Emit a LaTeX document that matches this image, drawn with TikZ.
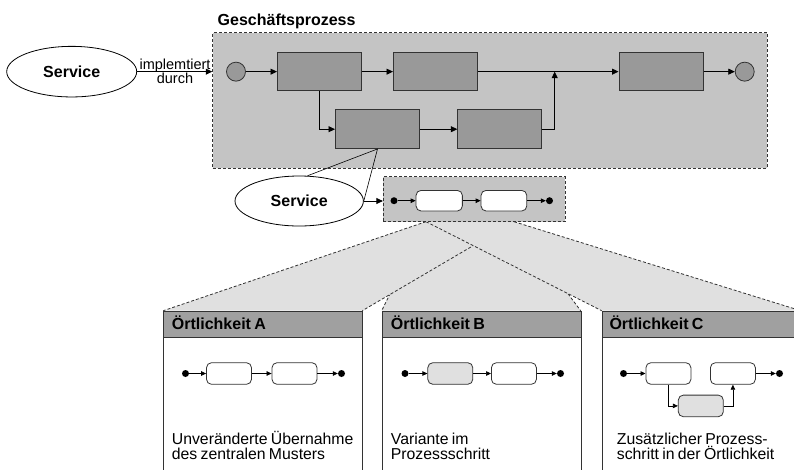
\documentclass[tikz,border=0pt]{standalone}
\usepackage{fontspec}
\setmainfont{Liberation Sans}[WordSpace=0.75]
\usetikzlibrary{arrows.meta,shapes.geometric}
\definecolor{boxgray}{HTML}{999999}
\definecolor{hdrgray}{HTML}{A0A0A0}
\definecolor{bggray}{HTML}{C4C4C4}
\definecolor{lgray}{HTML}{E0E0E0}
\definecolor{edge}{HTML}{333333}
\begin{document}
\begin{tikzpicture}[x=1pt,y=-1pt,
  proc/.style={draw=edge,line width=1pt,fill=boxgray,minimum width=84pt,minimum height=38.5pt,inner sep=0pt},
  ev/.style={circle,draw=edge,line width=0.8pt,fill=boxgray,minimum size=19pt,inner sep=0pt},
  conn/.style={draw=black,line width=0.8pt,-{Triangle[length=6.5pt,width=6pt]}},
  dashbox/.style={draw=edge,line width=0.9pt,dash pattern=on 3pt off 2pt,fill=bggray,inner sep=0pt},
  fdash/.style={draw=edge,line width=0.8pt,dash pattern=on 3pt off 2pt},
  stepbox/.style={draw=edge,line width=0.8pt,rounded corners=5pt,fill=white,minimum width=45pt,minimum height=21.6pt,inner sep=0pt},
  dot/.style={circle,fill=black,minimum size=7pt,inner sep=0pt},
  sarr/.style={draw=black,line width=0.7pt,-{Triangle[length=5pt,width=4.5pt]}},
  svc/.style={ellipse,draw=black,line width=0.8pt,fill=white,inner sep=0pt,font=\bfseries\fontsize{16}{18}\selectfont},
  hdrbox/.style={draw=edge,line width=1pt,fill=hdrgray,minimum width=199pt,minimum height=26pt,inner sep=0pt,anchor=north west},
  bodybox/.style={draw=edge,line width=1pt,fill=white,minimum width=199pt,minimum height=160pt,inner sep=0pt,anchor=north west},
  hdr/.style={anchor=base west,inner sep=0pt,font=\bfseries\fontsize{16}{18}\selectfont},
  txt/.style={anchor=base west,inner sep=0pt,font=\fontsize{15.8}{16}\selectfont},
  lbl/.style={anchor=base,inner sep=0pt,font=\fontsize{14.5}{15}\selectfont}
]
\clip (0,0) rectangle (794,469);
\fill[white] (0,0) rectangle (794,469);

% ---------- Geschaeftsprozess ----------
\node[dashbox,minimum width=554.3pt,minimum height=135.3pt] (gp) at (489.85,100.35) {};
\node[anchor=base west,inner sep=0pt,font=\bfseries\fontsize{16}{18}\selectfont] (gpl) at (217.5,25) {Geschäftsprozess};

\node[svc,minimum width=130pt,minimum height=50.6pt] (svc1) at (71.7,71.65) {Service};
\draw[conn] (svc1.east) -- (gp.west |- svc1.east);
\node[lbl] (l1) at (175,69.5) {implemtiert};
\node[lbl] (l2) at (175,83) {durch};

\node[ev] (s1) at (236,71.65) {};
\node[proc] (b1) at (319.5,71.65) {};
\node[proc] (b2) at (435.5,71.65) {};
\node[proc] (b3) at (377.5,129.2) {};
\node[proc] (b4) at (499.8,129.2) {};
\node[proc] (b5) at (661,71.65) {};
\node[ev] (e1) at (744.7,71.65) {};
\coordinate (j) at (554.7,71.65);

\draw[conn] (s1) -- (b1);
\draw[conn] (b1) -- (b2);
\draw[conn] (b2) -- (b5);
\draw[conn] (b5) -- (e1);
\draw[conn] (b1.south) |- (b3.west);
\draw[conn] (b3) -- (b4);
\draw[conn] (b4.east) -| (j);

% ---------- funnels ----------
\coordinate (ft1) at (426,221.7);
\coordinate (ft2) at (514,221.7);
\coordinate (pA1) at (163.3,310.7);
\coordinate (pA2) at (362.3,310.7);
\coordinate (pB1) at (381.7,310.7);
\coordinate (pB2) at (580.7,310.7);
\coordinate (pC1) at (601.7,310.7);
\coordinate (pC2) at (800.7,310.7);

\fill[lgray] (ft1) -- (pB1) -- (pB2) -- (ft2) -- cycle;
\draw[fdash] (ft1) -- (pB1);
\draw[fdash] (ft2) -- (pB2);
\fill[lgray] (ft1) -- (pA1) -- (pA2) -- (ft2) -- cycle;
\draw[fdash] (ft1) -- (pA1);
\draw[fdash] (ft2) -- (pA2);
\fill[lgray] (ft1) -- (pC1) -- (pC2) -- (ft2) -- cycle;
\draw[fdash] (ft1) -- (pC1);
\draw[fdash] (ft2) -- (pC2);

% ---------- service 2 and small box ----------
\node[svc,minimum width=128.4pt,minimum height=50pt] (svc2) at (299.2,201) {Service};
\draw[line width=0.6pt] (b3.south) -- (svc2.72);
\draw[line width=0.6pt] (b3.south) -- (svc2.east);

\node[dashbox,minimum width=182pt,minimum height=45pt] (sb) at (474.3,199.2) {};
\draw[conn] (svc2.east) -- (sb.west |- svc2.east);

\node[dot] (sd1) at (394,200.7) {};
\node[stepbox,minimum width=46.3pt,minimum height=20.6pt] (sb1) at (439.2,200.7) {};
\node[stepbox,minimum width=45.7pt,minimum height=20.6pt] (sb2) at (503.9,200.7) {};
\node[dot] (sd2) at (549.5,200.7) {};
\draw[sarr] (sd1) -- (sb1);
\draw[sarr] (sb1) -- (sb2);
\draw[sarr] (sb2) -- (sd2);

% ---------- panels ----------
\node[bodybox] (pA) at (163.3,336.7) {};
\node[hdrbox] (hA) at (pA1) {};
\node[hdr] (tA) at (171.7,329.3) {Örtlichkeit A};
\node[bodybox] (pB) at (381.7,336.7) {};
\node[hdrbox] (hB) at (pB1) {};
\node[hdr] (tB) at (390.7,329.3) {Örtlichkeit B};
\node[bodybox] (pC) at (601.7,336.7) {};
\node[hdrbox] (hC) at (pC1) {};
\node[hdr] (tC) at (609.3,329.3) {Örtlichkeit C};

% panel A flow
\node[dot] (ad1) at (185.5,373.5) {};
\node[stepbox] (a1) at (229,373.5) {};
\node[stepbox] (a2) at (294.5,373.5) {};
\node[dot] (ad2) at (341.5,373.5) {};
\draw[sarr] (ad1) -- (a1);
\draw[sarr] (a1) -- (a2);
\draw[sarr] (a2) -- (ad2);

% panel B flow
\node[dot] (bd1) at (405,373.5) {};
\node[stepbox,fill=lgray] (bb1) at (450.3,373.5) {};
\node[stepbox] (bb2) at (513.9,373.5) {};
\node[dot] (bd2) at (560.5,373.5) {};
\draw[sarr] (bd1) -- (bb1);
\draw[sarr] (bb1) -- (bb2);
\draw[sarr] (bb2) -- (bd2);

% panel C flow
\node[dot] (cd1) at (623.5,373.5) {};
\node[stepbox] (c1) at (668.4,373.5) {};
\node[stepbox] (c2) at (732.9,373.5) {};
\node[stepbox,fill=lgray] (cl) at (700.8,405.9) {};
\node[dot] (cd2) at (779.5,373.5) {};
\draw[sarr] (cd1) -- (c1);
\draw[sarr] (c1.south) |- (cl.west);
\draw[sarr] (cl.east) -| (c2.south);
\draw[sarr] (c2) -- (cd2);

% panel texts
\node[txt] (xa1) at (171.7,444) {Unveränderte Übernahme};
\node[txt] (xa2) at (171.7,459.3) {des zentralen Musters};
\node[txt] (xb1) at (390.7,444) {Variante im};
\node[txt] (xb2) at (390.7,459.3) {Prozessschritt};
\node[txt] (xc1) at (616.7,444) {Zusätzlicher Prozess-};
\node[txt] (xc2) at (616.7,459.3) {schritt in der Örtlichkeit};
\end{tikzpicture}
\end{document}
